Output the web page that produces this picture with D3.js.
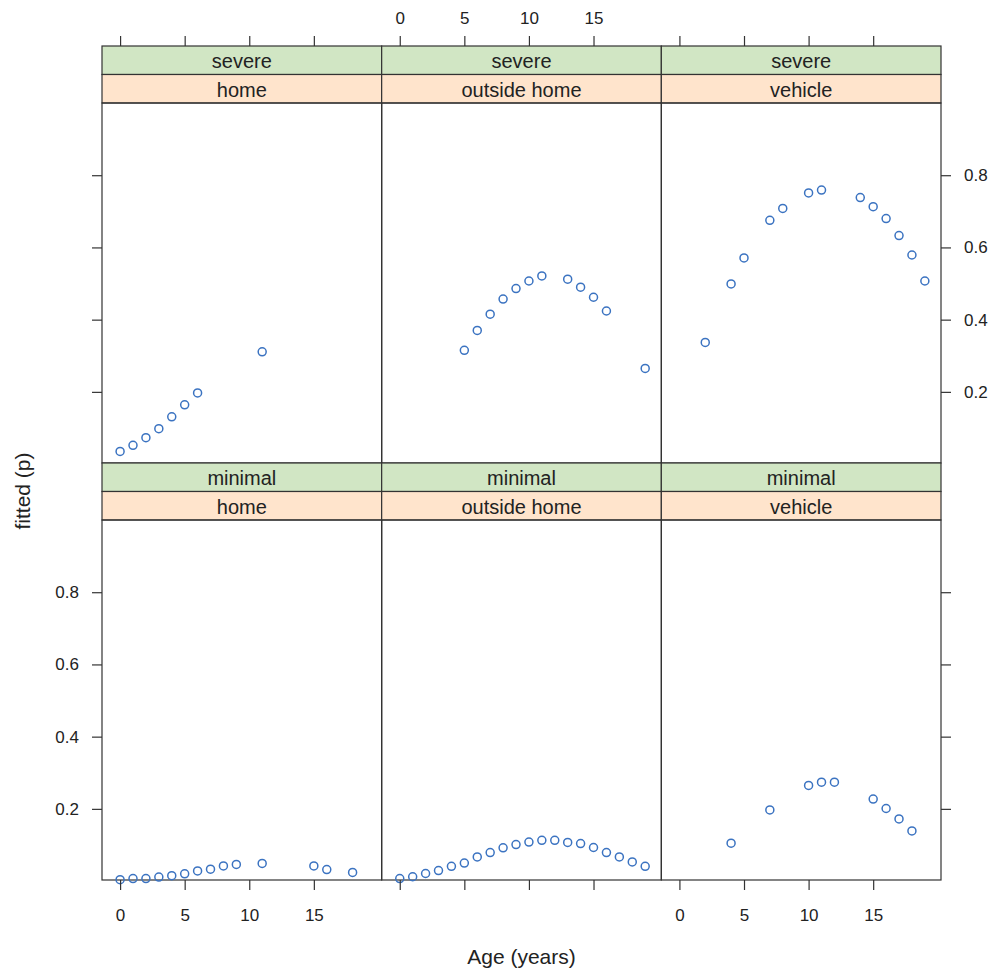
<!DOCTYPE html>
<html><head><meta charset="utf-8">
<script src="https://cdn.jsdelivr.net/npm/d3@7/dist/d3.min.js"></script>
<style>body{margin:0;background:#fff;} text{font-family:"Liberation Sans",Arial,sans-serif;}</style>
</head><body>
<svg id="c" width="997" height="972"></svg>
<script>
const severities = ["minimal", "severe"];
const locations = ["home", "outside home", "vehicle"];
const xTicks = [0, 5, 10, 15];
const yTicks = [0.2, 0.4, 0.6, 0.8];

const severeHomeAge = [0, 1, 2, 3, 4, 5, 6, 11];
const severeHomeP = [0.035, 0.052, 0.073, 0.098, 0.131, 0.164, 0.197, 0.311];
const severeOutsideAge = [5, 6, 7, 8, 9, 10, 11, 13, 14, 15, 16, 19];
const severeOutsideP = [0.315, 0.370, 0.415, 0.457, 0.486, 0.507, 0.521, 0.512, 0.490, 0.462, 0.424, 0.265];
const severeVehicleAge = [2, 4, 5, 7, 8, 10, 11, 14, 15, 16, 17, 18, 19];
const severeVehicleP = [0.337, 0.499, 0.571, 0.675, 0.708, 0.751, 0.759, 0.738, 0.713, 0.680, 0.633, 0.579, 0.507];
const minimalHomeAge = [0, 1, 2, 3, 4, 5, 6, 7, 8, 9, 11, 15, 16, 18];
const minimalHomeP = [0.004, 0.007, 0.007, 0.011, 0.015, 0.020, 0.028, 0.033, 0.042, 0.046, 0.049, 0.042, 0.032, 0.024];
const minimalOutsideAge = [0, 1, 2, 3, 4, 5, 6, 7, 8, 9, 10, 11, 12, 13, 14, 15, 16, 17, 18, 19];
const minimalOutsideP = [0.007, 0.012, 0.021, 0.029, 0.041, 0.050, 0.067, 0.079, 0.092, 0.101, 0.108, 0.113, 0.113, 0.107, 0.104, 0.093, 0.079, 0.067, 0.053, 0.041];
const minimalVehicleAge = [4, 7, 10, 11, 12, 15, 16, 17, 18];
const minimalVehicleP = [0.105, 0.197, 0.265, 0.274, 0.274, 0.227, 0.201, 0.172, 0.139];

const panels = [
  {sev: "severe", loc: "home", age: severeHomeAge, p: severeHomeP},
  {sev: "severe", loc: "outside home", age: severeOutsideAge, p: severeOutsideP},
  {sev: "severe", loc: "vehicle", age: severeVehicleAge, p: severeVehicleP},
  {sev: "minimal", loc: "home", age: minimalHomeAge, p: minimalHomeP},
  {sev: "minimal", loc: "outside home", age: minimalOutsideAge, p: minimalOutsideP},
  {sev: "minimal", loc: "vehicle", age: minimalVehicleAge, p: minimalVehicleP}
];

const svg = d3.select("#c");
const L = 102, R = 941, T = 46, B = 880;
const colW = (R - L) / 3, rowH = (B - T) / 2, stripH = 28.5;
const plotH = rowH - 2 * stripH;
const border = "#333333", tickCol = "#333333", textCol = "#222222";
const ptCol = "#3b73c1";
const fontFam = '"Liberation Sans",Arial,sans-serif';

const x = d3.scaleLinear().domain([-1.4, 20.25]).range([0, colW]);
const y = d3.scaleLinear().domain([0.003, 1.0]).range([plotH, 0]);

panels.forEach((pn, i) => {
  const col = i % 3, row = Math.floor(i / 3);
  const px = L + col * colW, py = T + row * rowH;
  const g = svg.append("g").attr("transform", `translate(${px},${py})`);
  // strips
  g.append("rect").attr("x", 0).attr("y", 0).attr("width", colW).attr("height", stripH)
    .attr("fill", "#d1e6c4").attr("stroke", border).attr("stroke-width", 1.2);
  g.append("text").attr("x", colW / 2).attr("y", stripH / 2 + 8).attr("text-anchor", "middle")
    .attr("font-size", 20).attr("fill", textCol).text(pn.sev);
  g.append("rect").attr("x", 0).attr("y", stripH).attr("width", colW).attr("height", stripH)
    .attr("fill", "#ffe4cc").attr("stroke", border).attr("stroke-width", 1.2);
  g.append("text").attr("x", colW / 2).attr("y", stripH * 1.5 + 8).attr("text-anchor", "middle")
    .attr("font-size", 20).attr("fill", textCol).text(pn.loc);
  const pg = g.append("g").attr("transform", `translate(0,${2 * stripH})`);
  pg.append("rect").attr("width", colW).attr("height", plotH).attr("fill", "none")
    .attr("stroke", border).attr("stroke-width", 1.2);
  pg.selectAll("circle").data(pn.age.map((a, k) => [a, pn.p[k]])).join("circle")
    .attr("cx", d => x(d[0])).attr("cy", d => y(d[1])).attr("r", 4)
    .attr("fill", "none").attr("stroke", ptCol).attr("stroke-width", 1.5);

  // axes
  const styleAxis = (ag) => {
    ag.attr("font-size", 17).attr("font-family", fontFam);
    ag.select(".domain").remove();
    ag.selectAll(".tick line").attr("stroke", tickCol).attr("stroke-width", 1.2);
    ag.selectAll(".tick text").attr("fill", textCol);
  };
  if (row === 0) {
    const ax = d3.axisTop(x).tickValues(xTicks).tickSize(10).tickPadding(12)
      .tickFormat(col === 1 ? d3.format("d") : () => "");
    g.append("g").call(ax).call(styleAxis);
  } else {
    const ax = d3.axisBottom(x).tickValues(xTicks).tickSize(10).tickPadding(19)
      .tickFormat(col !== 1 ? d3.format("d") : () => "");
    pg.append("g").attr("transform", `translate(0,${plotH})`).call(ax).call(styleAxis);
  }
  if (col === 0) {
    const ay = d3.axisLeft(y).tickValues(yTicks).tickSize(10).tickPadding(13)
      .tickFormat(row === 1 ? d3.format(".1f") : () => "");
    pg.append("g").call(ay).call(styleAxis);
  }
  if (col === 2) {
    const ay = d3.axisRight(y).tickValues(yTicks).tickSize(10).tickPadding(13)
      .tickFormat(row === 0 ? d3.format(".1f") : () => "");
    pg.append("g").attr("transform", `translate(${colW},0)`).call(ay).call(styleAxis);
  }
});

svg.append("text").attr("x", (L + R) / 2).attr("y", 964).attr("text-anchor", "middle")
  .attr("font-size", 21).attr("fill", textCol).text("Age (years)");
svg.append("text").attr("transform", "translate(30,491) rotate(-90)").attr("text-anchor", "middle")
  .attr("font-size", 21).attr("fill", textCol).text("fitted (p)");
</script>
</body></html>
